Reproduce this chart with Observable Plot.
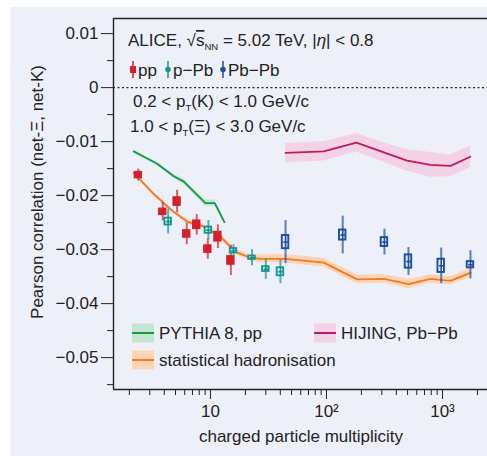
<!DOCTYPE html>
<html><head><meta charset="utf-8">
<script src="https://cdn.jsdelivr.net/npm/d3@7"></script>
<script src="https://cdn.jsdelivr.net/npm/@observablehq/plot@0.6"></script>
<style>
body{margin:0;background:#fff;font-family:"Liberation Sans",Arial,sans-serif;}
#bg{position:absolute;left:10px;top:7px;width:477px;height:449px;background:#eef0f9;}
#chart{position:absolute;left:0;top:0;}
</style></head>
<body><div id="bg"></div><div id="chart"></div>
<script>
// ---- data ----
const ppX = [2.39, 3.88, 5.16, 6.25, 7.62, 9.49, 11.6, 15.0];
const ppY = [-0.0162, -0.0230, -0.0211, -0.0271, -0.0254, -0.0299, -0.0276, -0.0320];
const ppStat = [0.0011, 0.0017, 0.0021, 0.0020, 0.0019, 0.0019, 0.0022, 0.0028];
const ppSys = [0.0007, 0.0007, 0.0009, 0.0008, 0.0009, 0.0008, 0.0010, 0.0009];

const pPbX = [4.32, 9.6, 15.8, 22.8, 30.0, 40.1];
const pPbY = [-0.0248, -0.0264, -0.0302, -0.0315, -0.0336, -0.0341];
const pPbStat = [0.0023, 0.0018, 0.0011, 0.0015, 0.0019, 0.0022];
const pPbSys = [0.0008, 0.00074, 0.00056, 0.00048, 0.00062, 0.0009];

const PbPbX = [44.4, 138, 316, 509, 975, 1742];
const PbPbY = [-0.0286, -0.0273, -0.0286, -0.0322, -0.0330, -0.0328];
const PbPbStat = [0.0040, 0.0035, 0.0024, 0.0026, 0.0033, 0.0026];
const PbPbSys = [0.0014, 0.0011, 0.0010, 0.0014, 0.0014, 0.00075];

const pythiaX = [2.18, 3.47, 4.83, 5.89, 9.06, 10.9, 13.2];
const pythiaY = [-0.0118, -0.0141, -0.0164, -0.0174, -0.0214, -0.0214, -0.0249];
const pythiaErr = [0.0002, 0.0003, 0.0004, 0.0005, 0.0006, 0.0006, 0.0004];

const shX = [2.18, 3.25, 4.68, 6.29, 8.75, 12.2, 16.4, 22.1, 27.0, 44.4, 94.8, 184, 312, 512, 789, 1172, 1742];
const shY = [-0.0158, -0.0197, -0.0228, -0.0248, -0.0257, -0.0276, -0.0304, -0.0315, -0.0317, -0.0317, -0.0324, -0.0355, -0.0354, -0.0364, -0.0354, -0.0358, -0.0343];
const shErr = [0.0002, 0.0003, 0.0003, 0.0004, 0.0004, 0.0005, 0.0005, 0.0006, 0.0007, 0.0008, 0.0008, 0.0008, 0.0008, 0.0009, 0.0008, 0.0008, 0.0008];

const hijingX = [44.4, 94.8, 181, 312, 495, 789, 1172, 1742];
const hijingY = [-0.0121, -0.0118, -0.0102, -0.0120, -0.0135, -0.0143, -0.0145, -0.0128];
const hijingErr = [0.0018, 0.0018, 0.0017, 0.0018, 0.0020, 0.0023, 0.0020, 0.0020];

const yMajor = [0.01, 0, -0.01, -0.02, -0.03, -0.04, -0.05];
const yMinor = [0.005, -0.005, -0.015, -0.025, -0.035, -0.045, -0.055];
const xMajor = [10, 100, 1000];
const xMajorLabels = ["10", "10²", "10³"];
const xMinor = [2,3,4,5,6,7,8,9,20,30,40,50,60,70,80,90,200,300,400,500,600,700,800,900,2000];

// ---- styles ----
const RED = "#d3202a", TEAL = "#139590", BLUE = "#1d4f9c";
const GREEN = "#179a46", GREEN_B = "#c4e5cf";
const ORANGE = "#f07a22", ORANGE_B = "#fdd4b6";
const MAG = "#c0176a", MAG_B = "#f2d2e4";
const INK = "#222";
const FONT = "'Liberation Sans', Arial, sans-serif";
const FS = 17;
const XDOM = [1.46, 2443], YDOM = [-0.0559, 0.0128];

const rec = (X, Y, E, S) => X.map((x, i) => ({x, y: Y[i], e: E[i], s: S ? S[i] : 0}));
const pp = rec(ppX, ppY, ppStat, ppSys);
const pPb = rec(pPbX, pPbY, pPbStat, pPbSys);
const PbPb = rec(PbPbX, PbPbY, PbPbStat, PbPbSys);
const pythia = rec(pythiaX, pythiaY, pythiaErr);
const sh = rec(shX, shY, shErr);
const hijing = rec(hijingX, hijingY, hijingErr);

const BW = Math.pow(10, 4.2 / 116);  // box half width ratio
const IW = Math.pow(10, 2.3 / 116);  // inner half width ratio

function band(data, fill) {
  return Plot.areaY(data, {x: "x", y1: d => d.y - d.e, y2: d => d.y + d.e, fill});
}
function curve(data, stroke) {
  return Plot.line(data, {x: "x", y: "y", stroke, strokeWidth: 1.8});
}
function errBars(data, stroke) {
  return Plot.ruleX(data, {x: "x", y1: d => d.y - d.e, y2: d => d.y + d.e, stroke, strokeWidth: 2, strokeOpacity: 0.7});
}
function openBoxes(data, color, inset) {
  return [
    Plot.rect(data, {x1: d => d.x / BW, x2: d => d.x * BW, y1: d => d.y - d.s, y2: d => d.y + d.s, fill: color}),
    Plot.rect(data, {x1: d => d.x / IW, x2: d => d.x * IW, y1: d => d.y - d.s + inset, y2: d => d.y + d.s - inset, fill: "#ffffff", fillOpacity: 0.9}),
    Plot.ruleX(data, {x: "x", y1: d => d.y - d.s, y2: d => d.y + d.s, stroke: color, strokeWidth: 1.6}),
    Plot.link(data, {x1: d => d.x / IW, x2: d => d.x * IW, y1: "y", y2: "y", stroke: color, strokeWidth: 1.6})
  ];
}

const chart = Plot.plot({
  width: 487, height: 456,
  marginLeft: 113, marginRight: 0, marginTop: 18, marginBottom: 67,
  style: {background: "transparent", fontFamily: FONT, fontSize: FS + "px", color: INK},
  x: {type: "log", domain: XDOM},
  y: {domain: YDOM},
  marks: [
    band(hijing, MAG_B), band(sh, ORANGE_B), band(pythia, GREEN_B),
    curve(hijing, MAG), curve(sh, ORANGE), curve(pythia, GREEN),
    Plot.ruleY([0], {stroke: INK, strokeWidth: 1.2, strokeDasharray: "2,2.5"}),
    errBars(pp, RED),
    Plot.rect(pp, {x1: d => d.x / BW, x2: d => d.x * BW, y1: d => d.y - d.s, y2: d => d.y + d.s, fill: RED}),
    errBars(pPb, TEAL),
    ...openBoxes(pPb, TEAL, 0.00032),
    errBars(PbPb, BLUE),
    ...openBoxes(PbPb, BLUE, 0.00035),
    // frame lines
    Plot.ruleX([XDOM[0]], {stroke: INK, strokeWidth: 1.4}),
    Plot.ruleY([YDOM[1]], {stroke: INK, strokeWidth: 1.4}),
    Plot.ruleY([YDOM[0]], {stroke: INK, strokeWidth: 1.4}),
    Plot.axisY({ticks: yMajor, tickSize: 12, tickPadding: 3, label: null, fontSize: FS,
      tickFormat: d => d === 0 ? "0" : d3.format(".2f")(d).replace("-", "−")}),
    Plot.axisY({ticks: yMinor, tickSize: 6, label: null, tickFormat: () => ""}),
    Plot.axisX({ticks: xMajor, tickSize: 10, tickPadding: 5, label: null, fontSize: FS,
      tickFormat: d => xMajorLabels[xMajor.indexOf(d)]}),
    Plot.axisX({ticks: xMinor, tickSize: 6, label: null, tickFormat: () => ""})
  ]
});
document.getElementById("chart").appendChild(chart);

// ---- annotations & legends ----
const svg = d3.select(chart);
const g = svg.append("g").attr("font-family", FONT).attr("fill", INK).attr("text-anchor", "start");

g.append("text").attr("x", 37).attr("y", 192).attr("transform", "rotate(-90 37 192)")
  .attr("text-anchor", "middle").attr("dominant-baseline", "central").attr("font-size", FS)
  .text("Pearson correlation (net-Ξ, net-K)");
g.append("text").attr("x", 301).attr("y", 436).attr("text-anchor", "middle")
  .attr("dominant-baseline", "central").attr("font-size", FS).text("charged particle multiplicity");

// ALICE header
const t1 = g.append("text").attr("x", 128).attr("y", 46).attr("font-size", FS).attr("text-anchor", "start");
t1.append("tspan").text("ALICE, ");
t1.append("tspan").text("√");
t1.append("tspan").text("s").attr("text-decoration", "overline");
t1.append("tspan").text("NN").attr("font-size", 9.5).attr("dy", 4);
t1.append("tspan").text(" = 5.02 TeV, |").attr("dy", -4);
t1.append("tspan").text("η").attr("font-style", "italic");
t1.append("tspan").text("| < 0.8");

// marker legend
const lg = [{x: 133, c: RED, t: "pp", sq: true}, {x: 168, c: TEAL, t: "p−Pb"}, {x: 223, c: BLUE, t: "Pb−Pb"}];
lg.forEach(d => {
  g.append("line").attr("x1", d.x).attr("x2", d.x).attr("y1", 61).attr("y2", 78)
    .attr("stroke", d.c).attr("stroke-width", 2).attr("stroke-opacity", 0.75);
  if (d.sq) g.append("rect").attr("x", d.x - 3).attr("y", 66).attr("width", 6).attr("height", 7).attr("fill", d.c);
  else g.append("circle").attr("cx", d.x).attr("cy", 69.5).attr("r", 2.8).attr("fill", d.c);
  g.append("text").attr("x", d.x + 5).attr("y", 75.5).attr("font-size", FS).attr("text-anchor", "start").text(d.t);
});

function ptLine(y, a, sym, b) {
  const t = g.append("text").attr("x", 0).attr("y", y).attr("font-size", FS).attr("text-anchor", "start");
  t.append("tspan").text(a + " < p");
  t.append("tspan").text("T").attr("font-size", 9.5).attr("dy", 4);
  t.append("tspan").text("(" + sym + ") < " + b + " GeV/c").attr("dy", -4);
  return t;
}
ptLine(106.5, "0.2", "K", "1.0").attr("x", 133);
ptLine(132, "1.0", "Ξ", "3.0").attr("x", 130);

// model legend
function swatch(x, y, fill, stroke, label) {
  g.append("rect").attr("x", x).attr("y", y - 9.5).attr("width", 22).attr("height", 19).attr("fill", fill);
  g.append("line").attr("x1", x).attr("x2", x + 22).attr("y1", y).attr("y2", y).attr("stroke", stroke).attr("stroke-width", 2);
  g.append("text").attr("x", x + 27).attr("y", y).attr("dominant-baseline", "central").attr("font-size", FS)
    .attr("text-anchor", "start").text(label);
}
swatch(132, 333, GREEN_B, GREEN, "PYTHIA 8, pp");
swatch(314, 333, MAG_B, MAG, "HIJING, Pb−Pb");
swatch(132, 360, ORANGE_B, ORANGE, "statistical hadronisation");
</script>
</body></html>
